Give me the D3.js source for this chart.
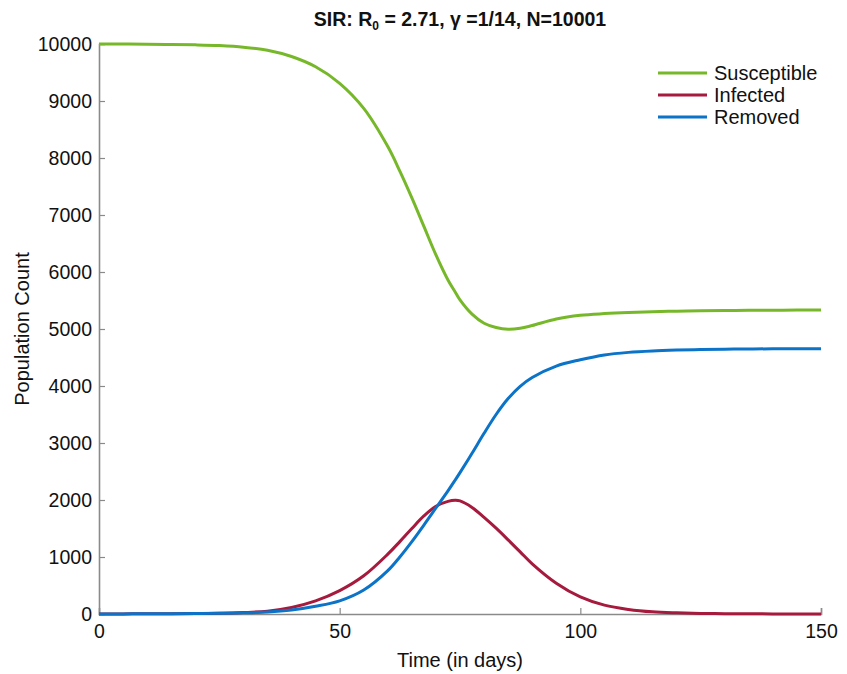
<!DOCTYPE html>
<html>
<head>
<meta charset="utf-8">
<script src="https://cdn.jsdelivr.net/npm/d3@7.9.0/dist/d3.min.js"></script>
<style>
  body { margin: 0; background: #fff; }
  svg text { font-family: "Liberation Sans", Arial, sans-serif; fill: #111; }
</style>
</head>
<body>
<svg id="chart" width="847" height="674"></svg>
<script>
// days (denser where the curves bend)
const days = [0, 5, 10, 15, 20, 25, 30, 35, 40, 45, 50, 55, 60, 62.5, 65, 67.5, 70, 72.5, 74, 75, 77.5, 80, 82.5, 85, 87.5, 90, 95, 100, 105, 110, 115, 120, 125, 130, 135, 140, 145, 150];

const susceptible = [10000, 9999, 9997, 9992, 9985, 9972, 9945, 9890, 9780, 9600, 9310, 8870, 8200, 7770, 7300, 6800, 6300, 5860, 5650, 5510, 5260, 5100, 5025, 4995, 5012, 5060, 5175, 5240, 5270, 5290, 5303, 5313, 5320, 5325, 5328, 5330, 5332, 5333];
const infected    = [1, 2, 3, 5, 8, 12, 25, 50, 115, 230, 410, 670, 1050, 1270, 1500, 1720, 1890, 1975, 1995, 1985, 1870, 1695, 1505, 1300, 1090, 880, 540, 300, 155, 80, 38, 20, 10, 6, 4, 2, 1, 1];
const removed     = [1, 2, 3, 5, 8, 12, 20, 35, 70, 135, 230, 420, 760, 1000, 1270, 1560, 1860, 2160, 2350, 2480, 2820, 3170, 3500, 3780, 3995, 4150, 4350, 4460, 4545, 4590, 4615, 4630, 4640, 4646, 4650, 4652, 4654, 4655];

const seriesNames = ["Susceptible", "Infected", "Removed"];
const seriesColors = ["#77b82a", "#a51a3d", "#0b73c8"];
const xTicks = [0, 50, 100, 150];
const yTicks = d3.range(0, 10001, 1000);

const svg = d3.select("#chart");
const margin = { left: 99, right: 26, top: 44, bottom: 60 };
const width = 847, height = 674;

const x = d3.scaleLinear().domain([0, 150]).range([margin.left, width - margin.right]);
const y = d3.scaleLinear().domain([0, 10000]).range([height - margin.bottom, margin.top]);

// axes (ticks point inward)
const axisColor = "#8a8a8a";
const gx = svg.append("g").attr("transform", `translate(0,${y(0)})`)
  .call(d3.axisBottom(x).tickValues(xTicks).tickFormat(d3.format("d")).tickSize(-6).tickPadding(10));
const gy = svg.append("g").attr("transform", `translate(${x(0)},0)`)
  .call(d3.axisLeft(y).tickValues(yTicks).tickFormat(d3.format("d")).tickSize(-6).tickPadding(7));

[gx, gy].forEach(g => {
  g.select(".domain").attr("stroke", axisColor).attr("stroke-width", 1.6);
  g.selectAll(".tick line").attr("stroke", axisColor).attr("stroke-width", 1.2);
  g.selectAll(".tick text").attr("font-size", 19.5).attr("fill", "#111")
    .attr("font-family", "'Liberation Sans', Arial, sans-serif");
});
gy.selectAll(".tick").filter(d => d === 0 || d === 10000).select("line").remove();
gx.selectAll(".tick").filter(d => d === 0).select("line").remove();

// lines
const allSeries = [susceptible, infected, removed];
const line = d3.line()
  .x((d, i) => x(days[i]))
  .y(d => y(d))
  .curve(d3.curveCatmullRom.alpha(0.5));

allSeries.forEach((s, i) => {
  svg.append("path")
    .datum(s)
    .attr("d", line)
    .attr("fill", "none")
    .attr("stroke", seriesColors[i])
    .attr("stroke-width", 3);
});

// title
const title = svg.append("text")
  .attr("x", (x(0) + x(150)) / 2)
  .attr("y", 26)
  .attr("text-anchor", "middle")
  .attr("font-size", 19.5)
  .attr("font-weight", "bold");
title.append("tspan").text("SIR: R");
title.append("tspan").attr("font-size", 12).attr("dy", 4).text("0");
title.append("tspan").attr("dy", -4).text(" = 2.71, γ =1/14, N=10001");

// axis labels
svg.append("text")
  .attr("x", (x(0) + x(150)) / 2)
  .attr("y", 667)
  .attr("text-anchor", "middle")
  .attr("font-size", 20)
  .text("Time (in days)");

svg.append("text")
  .attr("transform", `translate(29,${(y(0) + y(10000)) / 2}) rotate(-90)`)
  .attr("text-anchor", "middle")
  .attr("font-size", 20)
  .text("Population Count");

// legend
const legend = svg.append("g").attr("transform", "translate(658,73)");
seriesNames.forEach((name, i) => {
  const row = legend.append("g").attr("transform", `translate(0,${i * 22})`);
  row.append("line")
    .attr("x1", 0).attr("x2", 49)
    .attr("y1", 0).attr("y2", 0)
    .attr("stroke", seriesColors[i])
    .attr("stroke-width", 3);
  row.append("text")
    .attr("x", 56)
    .attr("y", 7)
    .attr("font-size", 20)
    .text(name);
});
</script>
</body>
</html>
